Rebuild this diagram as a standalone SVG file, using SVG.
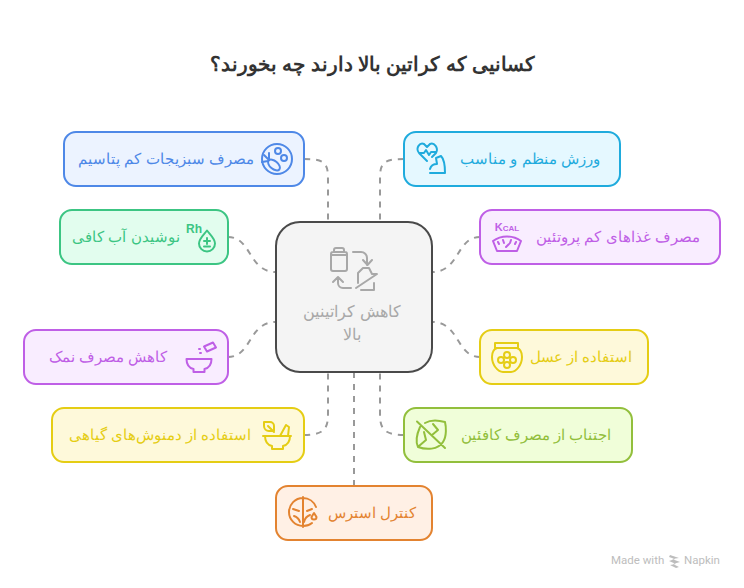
<svg xmlns="http://www.w3.org/2000/svg" width="744" height="588" viewBox="0 0 744 588">
<style>
text{font-family:"Liberation Sans",sans-serif;font-size:15px;direction:rtl;text-anchor:middle}
.n{stroke-width:2}
.i{fill:none;stroke-width:2;stroke-linecap:round;stroke-linejoin:round}
#connectors path{fill:none;stroke:#999;stroke-width:2;stroke-dasharray:6 6}
.blue rect{fill:#ecf3ff;stroke:#4e88e7}.blue text{fill:#4e88e7}.blue .i{stroke:#4e88e7}
.green rect{fill:#e2fdee;stroke:#3cc583}.green text{fill:#3cc583}.green .i{stroke:#3cc583}
.purple rect{fill:#f9edff;stroke:#bf5fe6}.purple text{fill:#bf5fe6}.purple .i{stroke:#bf5fe6}
.yellow rect{fill:#fef9da;stroke:#e5cd14}.yellow text{fill:#e5cd14}.yellow .i{stroke:#e5cd14}
.orange rect{fill:#fff0e5;stroke:#e38330}.orange text{fill:#e38330}.orange .i{stroke:#e38330}
.cyan rect{fill:#e5f8ff;stroke:#1fabdd}.cyan text{fill:#1fabdd}.cyan .i{stroke:#1fabdd}
.lime rect{fill:#f0fed9;stroke:#92bf3c}.lime text{fill:#92bf3c}.lime .i{stroke:#92bf3c}
.ltr{direction:ltr;font-weight:bold}
.brand{direction:ltr;font-size:11.500px;fill:#bdbdbd;font-family:Roboto,sans-serif;text-anchor:start}
</style>
<text id="title" x="372.500" y="71" style="font-size:19.500px;font-weight:bold" fill="#333">کسانیی که کراتین بالا دارند چه بخورند؟</text>
<g id="connectors">
<path d="M304 159C328 159 328 165 328 183V222"/>
<path d="M228 237C252 237 248 272 276 272"/>
<path d="M228 357C252 357 248 322 276 322"/>
<path d="M304 435C328 435 328 425 328 411V372"/>
<path d="M354 372V486"/>
<path d="M404 159C380 159 380 165 380 183V222"/>
<path d="M480 237C456 237 460 272 432 272"/>
<path d="M480 357C456 357 460 322 432 322"/>
<path d="M404 435C380 435 380 425 380 411V372"/>
</g>
<g id="center">
<rect x="276" y="222" width="156" height="150" rx="24" fill="#f4f4f4" stroke="#4a4a4a" stroke-width="2"/>
<g class="i" stroke="#a8a8a8">
<path d="M331 254a2 2 0 0 1 2-2h12a2 2 0 0 1 2 2v15a2 2 0 0 1-2 2h-12a2 2 0 0 1-2-2zM331 255h16M334 252v-2a2 2 0 0 1 2-2h6a2 2 0 0 1 2 2v2"/>
<path d="M353 252h8a6 6 0 0 1 6 6v7M363 260l4.500 5 4.500-5"/>
<path d="M351 288h-8a5 5 0 0 1-5-5v-5M333 282l5-5 5 5"/>
<path d="M356 288L377 274H372L369 268H363L358 273V283M374 283v7h-13"/>
</g>
<text x="352" y="317" style="font-size:16px" fill="#a8a8a8">کاهش کراتینین</text>
<text x="352" y="340" style="font-size:16px" fill="#a8a8a8">بالا</text>
</g>
<g id="node-potassium" class="blue">
<rect class="n" x="64" y="132" width="240" height="54" rx="12"/>
<text x="166" y="164">مصرف سبزیجات کم پتاسیم</text>
<g class="i"><circle cx="277" cy="159" r="15"/><ellipse cx="274" cy="165" rx="7" ry="4" transform="rotate(40 274 165)"/><path d="M269 160l-5-5M268 161l-6 1M269 159l0-6"/><circle cx="278" cy="151" r="3"/><circle cx="284" cy="158" r="3"/></g>
</g>
<g id="node-water" class="green">
<rect class="n" x="60" y="210" width="168" height="54" rx="12"/>
<text x="126" y="242">نوشیدن آب کافی</text>
<g class="i"><path d="M207 230.500c-3 4-8 8-8 13a8 8 0 0 0 16 0c0-5-5-9-8-13zM207 238v6M204 241h6M204 246.500h6"/></g>
<text class="ltr" x="194" y="233" style="font-size:12px">Rh</text>
</g>
<g id="node-salt" class="purple">
<rect class="n" x="24" y="330" width="204" height="54" rx="12"/>
<text x="108" y="362">کاهش مصرف نمک</text>
<g class="i"><path d="M186.500 359h25c0 6-3 9-7 10v3h-11v-3c-4-1-7-4-7-10z"/><path d="M204 346.500l9-4 3 5-9 4zM199 349l1 0M200 353l1 0"/></g>
</g>
<g id="node-herbal" class="yellow">
<rect class="n" x="52" y="408" width="252" height="54" rx="12"/>
<text x="160" y="440">استفاده از دمنوش‌های گیاهی</text>
<g class="i"><path d="M263 436h28M265 436c0 6 3 9 7 10v3h11v-3c4-1 7-4 7-10"/><path d="M280 436l6-11 3 2-1 9"/><path d="M264 422h6a4 4 0 0 1 4 4v5h-5a5 5 0 0 1-5-5zM268 426l6 6"/></g>
</g>
<g id="node-stress" class="orange">
<rect class="n" x="276" y="486" width="156" height="54" rx="12"/>
<text x="372" y="518">کنترل استرس</text>
<g class="i"><path d="M303 497v30M303 498A14 14 0 0 0 303 526M303 498A14 14 0 0 1 316 507M303 526A14 14 0 0 0 312 523"/><path d="M293 509l6 2M307 511l5-2M294 516c3 1 5 3 6 6M304 522c1-4 3-6 6-7"/><path d="M314 513l-2.500 4a2.500 2.500 0 1 0 5 0z"/></g>
</g>
<g id="node-exercise" class="cyan">
<rect class="n" x="404" y="132" width="216" height="54" rx="12"/>
<text x="530" y="164">ورزش منظم و مناسب</text>
<g class="i"><path d="M427 161l-8-8c-4-5 1-11 5-9l3 3 3-3c4-2 9 4 6 9l-4 4M419 153h5l2-3 3 5 2-3h5"/><path d="M430 173H445C445 168 445 160 441 156L436 158L437 164C433 164 431 165 430 169"/></g>
</g>
<g id="node-protein" class="purple">
<rect class="n" x="480" y="210" width="240" height="54" rx="12"/>
<text x="618" y="242">مصرف غذاهای کم پروتئین</text>
<g class="i"><path d="M493 241c8-6 20-6 28 0l-4 10h-20z"/><path d="M498 242l1 2M503 240l1 3M511 240l-1 3M516 242l-1 2M506 247l3-3"/></g>
<text class="ltr" x="507" y="231" style="font-size:8px;font-weight:bold"><tspan style="font-size:11px">K</tspan>CAL</text>
</g>
<g id="node-honey" class="yellow">
<rect class="n" x="480" y="330" width="168" height="54" rx="12"/>
<text x="581" y="362">استفاده از عسل</text>
<g class="i"><path d="M495 343h23v5h-23zM497 348c-3 1-5 4-5 9 0 8 6 15 11 15h8c5 0 11-7 11-15 0-5-2-8-5-9"/><circle cx="507" cy="355" r="3"/><circle cx="501" cy="360" r="3"/><circle cx="513" cy="360" r="3"/><circle cx="507" cy="365" r="3"/></g>
</g>
<g id="node-caffeine" class="lime">
<rect class="n" x="404" y="408" width="228" height="54" rx="12"/>
<text x="536" y="440">اجتناب از مصرف کافئین</text>
<g class="i"><path d="M417 421.500L445 448M420 427C416 436 416 443 418 447C426 450 438 450 443 442C447 436 446 426 445 422C438 420 430 420 425 423M419 446L426 440M432 435L438 430M424 432L426 440M433 424L438 430"/></g>
</g>
<g id="brand">
<text class="brand" x="611" y="564">Made with</text>
<path d="M670 555l9 3-7 1 8 3-7 2 6 3-3 1-6-3 6-1-7-3 6-2-6-2z" fill="#bdbdbd"/>
<text class="brand" x="684" y="564">Napkin</text>
</g>
</svg>
